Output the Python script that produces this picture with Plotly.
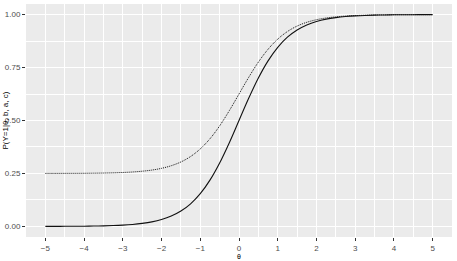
import plotly.graph_objects as go

theta = [-5.0, -4.75, -4.5, -4.25, -4.0, -3.75, -3.5, -3.25, -3.0, -2.75, -2.5, -2.25, -2.0,
         -1.75, -1.5, -1.25, -1.0, -0.75, -0.5, -0.25, 0.0, 0.25, 0.5, 0.75, 1.0, 1.25, 1.5,
         1.75, 2.0, 2.25, 2.5, 2.75, 3.0, 3.25, 3.5, 3.75, 4.0, 4.25, 4.5, 4.75, 5.0]

p_solid = [0.0002, 0.0003, 0.0005, 0.0007, 0.0011, 0.0017, 0.0026, 0.0040, 0.0061, 0.0092,
           0.0141, 0.0213, 0.0323, 0.0486, 0.0724, 0.1067, 0.1545, 0.2184, 0.2994, 0.3953,
           0.5000, 0.6047, 0.7006, 0.7816, 0.8455, 0.8933, 0.9276, 0.9514, 0.9677, 0.9787,
           0.9859, 0.9908, 0.9939, 0.9960, 0.9974, 0.9983, 0.9989, 0.9993, 0.9995, 0.9997, 0.9998]

p_dotted = [0.2502, 0.2502, 0.2504, 0.2505, 0.2508, 0.2513, 0.2520, 0.2530, 0.2546, 0.2569,
            0.2606, 0.2660, 0.2742, 0.2865, 0.3043, 0.3300, 0.3659, 0.4138, 0.4746, 0.5465,
            0.6250, 0.7035, 0.7755, 0.8362, 0.8841, 0.9200, 0.9457, 0.9636, 0.9758, 0.9840,
            0.9894, 0.9931, 0.9954, 0.9970, 0.9981, 0.9987, 0.9992, 0.9995, 0.9996, 0.9998, 0.9999]

x_ticks = [-5, -4, -3, -2, -1, 0, 1, 2, 3, 4, 5]
y_ticks = [0.0, 0.25, 0.5, 0.75, 1.0]
y_tick_labels = ["0.00", "0.25", "0.50", "0.75", "1.00"]

FONT = "Liberation Sans, Arial, sans-serif"

fig = go.Figure()
fig.add_trace(go.Scatter(x=theta, y=p_dotted, mode="lines",
                         line=dict(color="#111111", width=1.0, dash="1px,1px", shape="spline"),
                         showlegend=False, hoverinfo="skip"))
fig.add_trace(go.Scatter(x=theta, y=p_solid, mode="lines",
                         line=dict(color="#111111", width=1.1, shape="spline"),
                         showlegend=False, hoverinfo="skip"))

fig.update_layout(
    width=457, height=261,
    margin=dict(l=26, r=5, t=4, b=24),
    paper_bgcolor="white", plot_bgcolor="#EBEBEB",
    font=dict(family=FONT, size=8, color="#4D4D4D"),
    showlegend=False,
    xaxis=dict(range=[-5.5, 5.5], tickvals=x_ticks,
               ticktext=[("\u2212" + str(-t)) if t < 0 else str(t) for t in x_ticks],
               showgrid=True, gridcolor="white", gridwidth=1.1,
               minor=dict(dtick=0.5, tick0=0.5, showgrid=True, gridcolor="white", gridwidth=0.5),
               ticks="outside", ticklen=3, tickcolor="#333333", tickwidth=1,
               zeroline=False, showline=False, tickfont=dict(size=8, color="#4D4D4D")),
    yaxis=dict(range=[-0.05, 1.05], tickvals=y_ticks, ticktext=y_tick_labels,
               showgrid=True, gridcolor="white", gridwidth=1.1,
               minor=dict(tickvals=[0.125, 0.375, 0.625, 0.875], showgrid=True, gridcolor="white", gridwidth=0.5),
               ticks="outside", ticklen=3, tickcolor="#333333", tickwidth=1,
               zeroline=False, showline=False, tickfont=dict(size=8, color="#4D4D4D")),
    annotations=[
        dict(text="\u03b8", xref="paper", yref="paper", x=0.5, y=0, yshift=-24, showarrow=False,
             font=dict(size=7, color="#000000"), xanchor="center", yanchor="bottom", borderpad=0),
        dict(text="P(Y=1|\u03b8, b, a, c)", xref="paper", yref="paper", x=0, xshift=-21, y=0.5, showarrow=False,
             textangle=-90, font=dict(size=8, color="#000000"), xanchor="center", yanchor="middle"),
    ],
)

fig.write_html("out.html")
